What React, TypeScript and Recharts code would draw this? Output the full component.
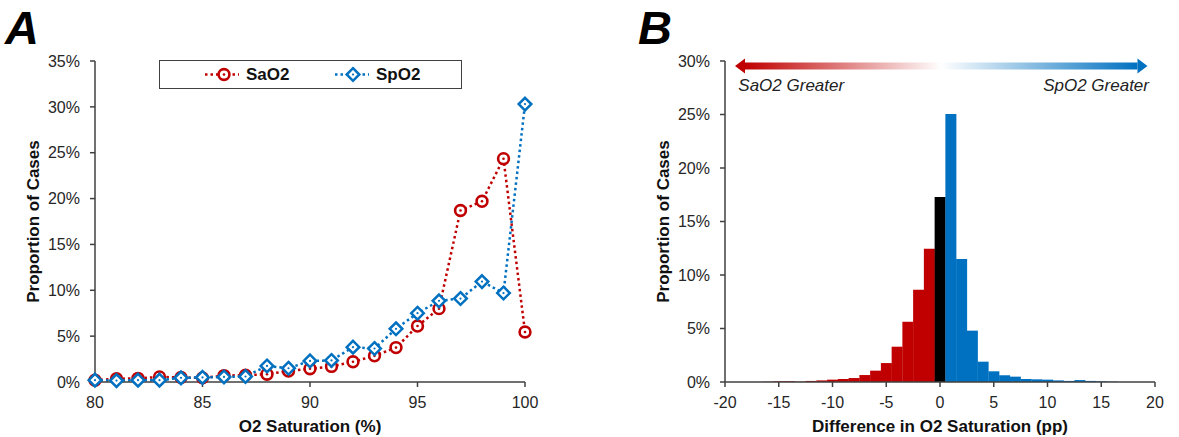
import React from "react";
import {
  LineChart,
  Line,
  BarChart,
  Bar,
  Cell,
  XAxis,
  YAxis,
  Label,
  ReferenceArea,
  ReferenceDot,
} from "recharts";

const FONT = "'Liberation Sans', Arial, sans-serif";
const RED = "#C00000";
const BLUE = "#0070C0";
const AXIS = "#404040";

// Panel A: distribution of O2 saturation (%)
const o2Levels = [80, 81, 82, 83, 84, 85, 86, 87, 88, 89, 90, 91, 92, 93, 94, 95, 96, 97, 98, 99, 100];
const saO2 = [0.2, 0.35, 0.4, 0.55, 0.5, 0.45, 0.7, 0.75, 0.85, 1.2, 1.45, 1.7, 2.2, 2.85, 3.75, 6.1, 8.0, 18.7, 19.7, 24.35, 5.45];
const spO2 = [0.2, 0.15, 0.2, 0.2, 0.45, 0.5, 0.55, 0.6, 1.75, 1.5, 2.3, 2.35, 3.8, 3.65, 5.8, 7.5, 8.85, 9.1, 10.95, 9.7, 30.3];
const xTicksA = [80, 85, 90, 95, 100];
const yTicksA = [0, 5, 10, 15, 20, 25, 30, 35];

// Panel B: histogram of SpO2 - SaO2 (pp)
const diffs = [-16, -15, -14, -13, -12, -11, -10, -9, -8, -7, -6, -5, -4, -3, -2, -1, 0, 1, 2, 3, 4, 5, 6, 7, 8, 9, 10, 11, 12, 13, 14, 15, 16];
const diffPct = [0.02, 0.06, 0.07, 0.03, 0.1, 0.15, 0.22, 0.28, 0.37, 0.65, 1.06, 1.77, 3.3, 5.63, 8.62, 12.45, 17.3, 25.05, 11.5, 4.8, 1.9, 1.0, 0.63, 0.5, 0.28, 0.25, 0.22, 0.15, 0.1, 0.18, 0.1, 0.06, 0.03];
const xTicksB = [-20, -15, -10, -5, 0, 5, 10, 15, 20];
const yTicksB = [0, 5, 10, 15, 20, 25, 30];

const dataA = o2Levels.map((o2, i) => ({ o2, sa: saO2[i], sp: spO2[i] }));
const dataB = diffs.map((d, i) => ({ d, pct: diffPct[i] }));

const barColor = (d: number) => (d < 0 ? RED : d > 0 ? BLUE : "#000");

const tickStyle = { fontSize: 16, fill: "#262626", fontFamily: FONT };

const RingDot = (props: any) => {
  const { cx, cy } = props;
  if (cx == null || cy == null) return null;
  return (
    <g>
      <circle cx={cx} cy={cy} r={5.4} fill="#fff" stroke={RED} strokeWidth={2.6} />
      <circle cx={cx} cy={cy} r={1.3} fill={RED} />
    </g>
  );
};

const DiamondDot = (props: any) => {
  const { cx, cy } = props;
  if (cx == null || cy == null) return null;
  const s = 6.3;
  return (
    <g>
      <path
        d={`M${cx},${cy - s} L${cx + s},${cy} L${cx},${cy + s} L${cx - s},${cy} Z`}
        fill="#fff"
        stroke={BLUE}
        strokeWidth={2.5}
      />
      <circle cx={cx} cy={cy} r={1.1} fill={BLUE} />
    </g>
  );
};

const yTitle = (dx: number) => (props: any) => {
  const vb = props.viewBox || {};
  const x = vb.x + dx;
  const y = vb.y + vb.height / 2;
  return (
    <text
      x={x}
      y={y}
      transform={`rotate(-90 ${x} ${y})`}
      textAnchor="middle"
      dominantBaseline="central"
      fontFamily={FONT}
      fontWeight="bold"
      fontSize={17}
      fill="#111"
    >
      Proportion of Cases
    </text>
  );
};

const xTitle = (text: string) => (props: any) => {
  const vb = props.viewBox || {};
  return (
    <text
      x={vb.x + vb.width / 2}
      y={vb.y + 44}
      textAnchor="middle"
      dominantBaseline="central"
      fontFamily={FONT}
      fontWeight="bold"
      fontSize={17}
      fill="#111"
    >
      {text}
    </text>
  );
};

const ArrowHead = (dir: number) => (props: any) => {
  const { cx, cy } = props;
  if (cx == null) return null;
  return (
    <path
      d={`M${cx + dir * 10},${cy} L${cx},${cy - 7.5} L${cx},${cy + 7.5} Z`}
      fill={dir < 0 ? RED : BLUE}
    />
  );
};

const SideText = (text: string, anchor: "start" | "end") => (props: any) => {
  const { cx, cy } = props;
  if (cx == null) return null;
  return (
    <text
      x={cx}
      y={cy}
      textAnchor={anchor}
      dominantBaseline="central"
      fontFamily={FONT}
      fontStyle="italic"
      fontSize={17}
      fill="#222"
    >
      {text}
    </text>
  );
};

const LegendA = () => (
  <div
    style={{
      position: "absolute",
      left: 159,
      top: 60,
      width: 301,
      height: 27,
      border: `1.5px solid ${AXIS}`,
      background: "#fff",
      fontFamily: FONT,
    }}
  >
    <svg width={301} height={27} style={{ position: "absolute", left: 0, top: 0 }}>
      <line x1={45} y1={13.5} x2={79} y2={13.5} stroke={RED} strokeWidth={2.5} strokeDasharray="2.5 3" />
      <RingDot cx={64} cy={13.5} />
      <text x={86} y={13.5} dominantBaseline="central" fontWeight="bold" fontSize={17} fill="#111" fontFamily={FONT}>
        SaO2
      </text>
      <line x1={175} y1={13.5} x2={209} y2={13.5} stroke={BLUE} strokeWidth={2.5} strokeDasharray="2.5 3" />
      <DiamondDot cx={193} cy={13.5} />
      <text x={216} y={13.5} dominantBaseline="central" fontWeight="bold" fontSize={17} fill="#111" fontFamily={FONT}>
        SpO2
      </text>
    </svg>
  </div>
);

const panelLetter = (letter: string, left: number) => (
  <div
    style={{
      position: "absolute",
      left,
      top: 4,
      fontFamily: FONT,
      fontWeight: "bold",
      fontStyle: "italic",
      fontSize: 47,
      lineHeight: "48px",
      color: "#000",
    }}
  >
    {letter}
  </div>
);

export default function App() {
  return (
    <div style={{ position: "absolute", left: 0, top: 0, width: 1179, height: 437, background: "#fff" }}>
      {panelLetter("A", 5)}
      {panelLetter("B", 638)}

      <div style={{ position: "absolute", left: 0, top: 0 }}>
        <LineChart width={560} height={437} data={dataA} margin={{ top: 61, right: 35, bottom: 0, left: 0 }}>
          <XAxis
            dataKey="o2"
            type="number"
            domain={[80, 100]}
            ticks={xTicksA}
            height={55}
            tick={tickStyle}
            tickSize={5}
            tickMargin={10}
            stroke={AXIS}
            strokeWidth={1.5}
          >
            <Label content={xTitle("O2 Saturation (%)")} />
          </XAxis>
          <YAxis
            type="number"
            domain={[0, 35]}
            ticks={yTicksA}
            width={95}
            tick={tickStyle}
            tickSize={5}
            tickMargin={10}
            tickFormatter={(v: number) => `${v}%`}
            stroke={AXIS}
            strokeWidth={1.5}
          >
            <Label content={yTitle(33)} />
          </YAxis>
          <Line
            dataKey="sa"
            stroke={RED}
            strokeWidth={2.5}
            strokeDasharray="2.5 3"
            dot={<RingDot />}
            activeDot={false}
            isAnimationActive={false}
          />
          <Line
            dataKey="sp"
            stroke={BLUE}
            strokeWidth={2.5}
            strokeDasharray="2.5 3"
            dot={<DiamondDot />}
            activeDot={false}
            isAnimationActive={false}
          />
        </LineChart>
        <LegendA />
      </div>

      <div style={{ position: "absolute", left: 640, top: 0 }}>
        <BarChart
          width={539}
          height={437}
          data={dataB}
          barCategoryGap={0}
          barGap={0}
          margin={{ top: 61, right: 24, bottom: 0, left: 0 }}
        >
          <defs>
            <linearGradient id="arrowGrad" x1="0" y1="0" x2="1" y2="0">
              <stop offset="0%" stopColor={RED} />
              <stop offset="50%" stopColor="#ffffff" />
              <stop offset="100%" stopColor={BLUE} />
            </linearGradient>
          </defs>
          <XAxis
            dataKey="d"
            type="number"
            domain={[-20, 20]}
            ticks={xTicksB}
            height={55}
            tick={tickStyle}
            tickSize={5}
            tickMargin={10}
            stroke={AXIS}
            strokeWidth={1.5}
          >
            <Label content={xTitle("Difference in O2 Saturation (pp)")} />
          </XAxis>
          <YAxis
            type="number"
            domain={[0, 30]}
            ticks={yTicksB}
            width={85}
            tick={tickStyle}
            tickSize={5}
            tickMargin={10}
            tickFormatter={(v: number) => `${v}%`}
            stroke={AXIS}
            strokeWidth={1.5}
          >
            <Label content={yTitle(23)} />
          </YAxis>
          <Bar dataKey="pct" isAnimationActive={false}>
            {dataB.map((e, i) => (
              <Cell key={`c-${i}`} fill={barColor(e.d)} />
            ))}
          </Bar>
          <ReferenceArea x1={-18.14} x2={18.37} y1={29.2} y2={29.86} fill="url(#arrowGrad)" fillOpacity={1} stroke="none" />
          <ReferenceDot x={-18.14} y={29.53} shape={ArrowHead(-1)} />
          <ReferenceDot x={18.37} y={29.53} shape={ArrowHead(1)} />
          <ReferenceDot x={-18.76} y={27.71} shape={SideText("SaO2 Greater", "start")} />
          <ReferenceDot x={19.44} y={27.71} shape={SideText("SpO2 Greater", "end")} />
        </BarChart>
      </div>
    </div>
  );
}
